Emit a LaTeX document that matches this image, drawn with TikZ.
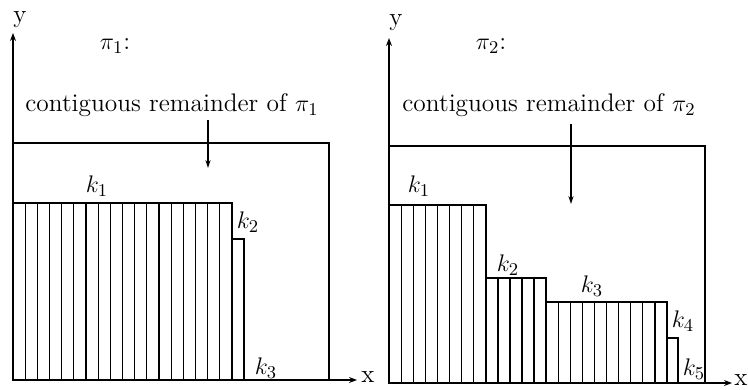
\documentclass[tikz,border=0pt]{standalone}
\usetikzlibrary{arrows.meta}
\begin{document}
\begin{tikzpicture}[x=0.5pt,y=-0.5pt,
  axis/.style={line width=0.65pt,-{Stealth[length=4pt,width=3pt]}},
  frame/.style={line width=0.6pt},
  bar/.style={line width=0.6pt},
  ptr/.style={line width=0.55pt,-{Stealth[length=4pt,width=2.6pt]}},
  lbl/.style={inner sep=0pt,font=\fontsize{12.7}{15}\selectfont}]
\useasboundingbox (0,0) rectangle (748,390);
% ---------- left panel ----------
\coordinate (O1) at (13,380);
\coordinate (Y1) at (13,33);
\coordinate (X1) at (357,380);
\draw[axis] (O1) -- (Y1);
\draw[axis] (O1) -- (X1);
\node[lbl] (ylab1) at (20,20) {y};
\node[lbl] (xlab1) at (368,377) {x};
\node[lbl] (pi1) at (115,46) {$\pi_1$:};
\coordinate (B1tl) at (13,143);
\coordinate (B1tr) at (329,143);
\coordinate (B1br) at (329,380);
\draw[frame] (B1tl) -- (B1tr) -- (B1br);
\node[lbl,anchor=base] (rem1) at (172,112) {contiguous remainder of $\pi_1$};
\coordinate (a1s) at (208,120);
\coordinate (a1e) at (208,168);
\draw[ptr] (a1s) -- (a1e);
\foreach \i in {0,...,17}{
  \draw[bar] ({13+\i*12.17},380) rectangle ({13+(\i+1)*12.17},203);
}
\draw[bar] (232,380) rectangle (244,239);
\node[lbl] (k11) at (97,186) {$k_1$};
\node[lbl] (k12) at (248,222) {$k_2$};
\node[lbl] (k13) at (266,368) {$k_3$};
% ---------- right panel ----------
\coordinate (O2) at (389,383);
\coordinate (Y2) at (389,38);
\coordinate (X2) at (732,383);
\draw[axis] (O2) -- (Y2);
\draw[axis] (O2) -- (X2);
\node[lbl] (ylab2) at (396,23) {y};
\node[lbl] (xlab2) at (741,380) {x};
\node[lbl] (pi2) at (491,46) {$\pi_2$:};
\coordinate (B2tl) at (389,146);
\coordinate (B2tr) at (705,146);
\coordinate (B2br) at (705,383);
\draw[frame] (B2tl) -- (B2tr) -- (B2br);
\node[lbl,anchor=base] (rem2) at (549,112) {contiguous remainder of $\pi_2$};
\coordinate (a2s) at (571,124);
\coordinate (a2e) at (571,204);
\draw[ptr] (a2s) -- (a2e);
\foreach \i in {0,...,7}{
  \draw[bar] ({389+\i*12.125},383) rectangle ({389+(\i+1)*12.125},205);
}
\foreach \i in {0,...,4}{
  \draw[bar] ({486+\i*12},383) rectangle ({486+(\i+1)*12},278);
}
\foreach \i in {0,...,9}{
  \draw[bar] ({546+\i*12.1},383) rectangle ({546+(\i+1)*12.1},302);
}
\draw[bar] (667,383) rectangle (678,338);
\node[lbl] (k21) at (419,186) {$k_1$};
\node[lbl] (k22) at (508,265) {$k_2$};
\node[lbl] (k23) at (592,286) {$k_3$};
\node[lbl] (k24) at (683,321) {$k_4$};
\node[lbl] (k25) at (694,369) {$k_5$};
\end{tikzpicture}
\end{document}
